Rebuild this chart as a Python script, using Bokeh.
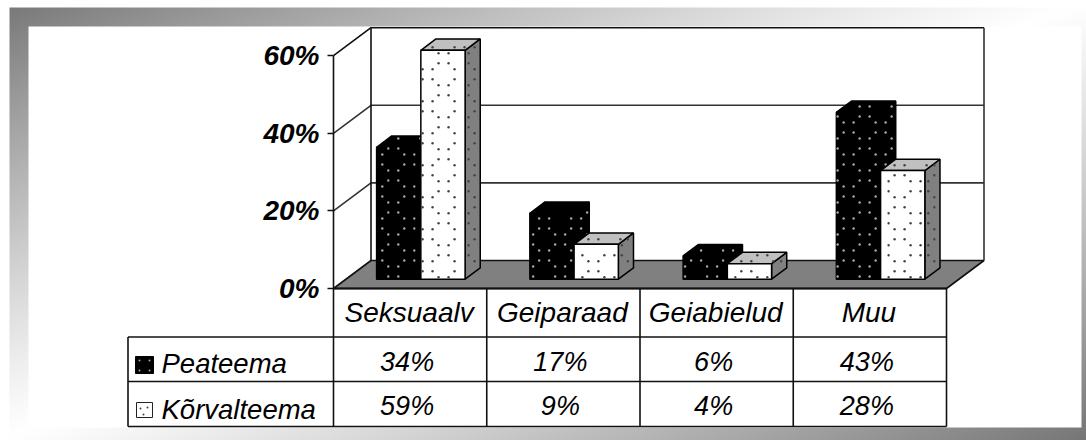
import numpy as np
from bokeh.core.properties import value
from bokeh.embed import file_html
from bokeh.models import FixedTicker, LinearAxis, PrintfTickFormatter, Range1d
from bokeh.plotting import figure
from bokeh.resources import INLINE

# ---- data ----
categories = ["Seksuaalv", "Geiparaad", "Geiabielud", "Muu"]
series_names = ["Peateema", "Kõrvalteema"]
peateema = [34, 17, 6, 43]
korvalteema = [59, 9, 4, 28]
y_ticks = [0, 20, 40, 60]
gridlines = [20, 40, 60]

# ---- page geometry (px) ----
PAGE_L, PAGE_T, PAGE_R, PAGE_B = 0, 0, 1086, 440
X0, CW = 333.0, 153.25      # px of category 0, px per category
Y0, PP = 288.0, 3.88        # px of 0 %, px per percent
DX, DY = 37.5, 28.0         # depth of the 3D box, px
D_FRONT, D_BACK = 0.332, 0.736
BAR_START, BAR_W = 0.2, 0.2887
FONT = "Liberation Sans"
BASE_FIX = 9.0


def dx_data(px): return (px - X0) / CW
def dy_data(py): return (Y0 - py) / PP
def to_px(x, y): return X0 + x * CW, Y0 - y * PP
def proj(c, v, d): return c + d * DX / CW, v + d * DY / PP


p = figure(width=PAGE_R - PAGE_L, height=PAGE_B - PAGE_T,
           x_range=Range1d(dx_data(PAGE_L), dx_data(PAGE_R)),
           y_range=Range1d(dy_data(PAGE_B), dy_data(PAGE_T)),
           toolbar_location=None, output_backend="svg", min_border=0,
           x_axis_type=None, y_axis_type=None, outline_line_color=None,
           background_fill_color="white", border_fill_color="white")
p.grid.visible = False

# ---- gradient frame ----
W, H = PAGE_R - PAGE_L, PAGE_B - PAGE_T
xx, yy = np.meshgrid(np.arange(W) + PAGE_L + .5, np.arange(H) + PAGE_T + .5)
t = xx / 1086 + yy / 440
g = 255 - 137 * np.abs(1 - t) ** 1.15
g = np.where((xx < 9) | (yy < 7), 255, g)
g = g.clip(0, 255).astype(np.uint32)
img = (255 << 24) | (g << 16) | (g << 8) | g
img = np.array(img, dtype=np.uint32)[::-1]
p.image_rgba(image=[img], x=dx_data(PAGE_L), y=dy_data(PAGE_B),
             dw=dx_data(PAGE_R) - dx_data(PAGE_L), dh=dy_data(PAGE_T) - dy_data(PAGE_B))
p.quad(left=dx_data(28), right=dx_data(1081), top=dy_data(26), bottom=dy_data(427),
       fill_color="white", line_color=None)

LINE = "#111111"
n = len(categories)
top_v = max(y_ticks)

# ---- walls ----
bx0, by0 = proj(0, 0, 1)
bx1, _ = proj(n, 0, 1)
for v in gridlines:
    xs0, ys0 = proj(0, v, 0)
    xs1, ys1 = proj(0, v, 1)
    p.line([xs0, xs1, bx1], [ys0, ys1, ys1], line_color="#333333" if v != 60 else LINE, line_width=1.6)
_, ty = proj(0, top_v, 1)
p.line([bx0, bx0], [by0, ty], line_color=LINE, line_width=1.6)
p.line([bx1, bx1], [by0, ty], line_color="#333333", line_width=1.6)

# ---- floor ----
fx, fy = zip(proj(0, 0, 0), proj(n, 0, 0), proj(n, 0, 1), proj(0, 0, 1))
p.patch(list(fx), list(fy), fill_color="#808080", line_color=LINE, line_width=1.6)


# ---- speckle texture ----
def inside(px, py, poly):
    c = False
    m = len(poly)
    for i in range(m):
        x1, y1 = poly[i]
        x2, y2 = poly[(i + 1) % m]
        if (y1 > py) != (y2 > py) and px < (x2 - x1) * (py - y1) / (y2 - y1) + x1:
            c = not c
    return c


def speckle(poly_data, ax, ay):
    poly = [to_px(*q) for q in poly_data]
    out = []
    for k in range(-2, 44):
        for m in range(-2, 16):
            for ox, oy in ((0, 0), (16, 16)):
                for sx in (0, 10):
                    for sy in (0, 10):
                        px = ax % 32 + ox + sx + 32 * k
                        py = ay % 32 + oy + sy + 32 * m
                        if all(inside(px + a, py + b, poly)
                               for a, b in ((1, 0), (-1, 0), (0, 1), (0, -1))):
                            out.append((dx_data(px), dy_data(py)))
    return out


# px offsets of the speckle tile inside each bar
tile_black = [11.7, 25.3, 24.0, 23.3]
tile_white = [1.7, 14.3, 14.0, 14.0]

for i in range(n):
    for j, vals in enumerate((peateema, korvalteema)):
        v = vals[i]
        c0 = i + BAR_START + j * BAR_W
        c1 = c0 + BAR_W
        front = [proj(c0, 0, D_FRONT), proj(c1, 0, D_FRONT), proj(c1, v, D_FRONT), proj(c0, v, D_FRONT)]
        side = [proj(c1, 0, D_FRONT), proj(c1, 0, D_BACK), proj(c1, v, D_BACK), proj(c1, v, D_FRONT)]
        top = [proj(c0, v, D_FRONT), proj(c1, v, D_FRONT), proj(c1, v, D_BACK), proj(c0, v, D_BACK)]
        colours = ("black", "black", "black") if j == 0 else ("white", "#808080", "#c0c0c0")
        for face, col in zip((side, top, front), (colours[1], colours[2], colours[0])):
            p.patch([q[0] for q in face], [q[1] for q in face], fill_color=col,
                    line_color="black", line_width=1.5)
        left_px, _ = to_px(*front[0])
        side_px, _ = to_px(*side[0])
        if j == 0:
            ax, ay = left_px + tile_black[i], 10
            pts = speckle(front, ax, ay) + speckle(side, ax, ay) + speckle(top, ax, ay)
        else:
            ax, ay = left_px + tile_white[i], 4.7
            pts = speckle(front, ax, ay) + speckle(side, side_px + 9.5, ay) + speckle(top, ax, ay)
        p.scatter([q[0] for q in pts], [q[1] for q in pts], marker="circle", size=2.4,
                  fill_color="#a8a8a8" if j == 0 else "#444444", line_color=None)

# ---- y axis ----
axis = LinearAxis(fixed_location=0, bounds=(0, top_v), ticker=FixedTicker(ticks=y_ticks),
                  formatter=PrintfTickFormatter(format="%d%%"))
axis.axis_line_color = LINE
axis.axis_line_width = 1.6
axis.major_tick_line_color = LINE
axis.major_tick_line_width = 1.5
axis.major_tick_in = 0
axis.major_tick_out = 6
axis.minor_tick_line_color = None
axis.major_label_standoff = 8
axis.major_label_text_font = FONT
axis.major_label_text_font_size = "28px"
axis.major_label_text_font_style = "bold italic"
axis.major_label_text_color = "black"
p.add_layout(axis, "left")

# ---- data table ----
T_L, T_R = 127.5, 946.0
ROW1, ROW2, ROW3 = 336.5, 381.0, 426.0
for py in (ROW1, ROW2, ROW3):
    p.line([dx_data(T_L), n], [dy_data(py)] * 2, line_color=LINE, line_width=1.6)
p.line([dx_data(T_L)] * 2, [dy_data(ROW1), dy_data(ROW3)], line_color=LINE, line_width=1.6)
for i in range(n + 1):
    p.line([i, i], [0, dy_data(ROW3)], line_color=LINE, line_width=1.6)

p.line([0, n], [0, 0], line_color=LINE, line_width=1.8)

txt = dict(text_font=value(FONT), text_font_style="italic",
           text_color="black", text_baseline="alphabetic")
cat_x = [i + .5 - 1 / CW for i in range(n)]
val_x = [i + .5 - 3 / CW for i in range(n)]
p.text(x=cat_x, y=[dy_data(320.5 - BASE_FIX)] * n, text=categories, text_align="center",
       text_font_size="28px", **txt)
p.text(x=val_x, y=[dy_data(370.7 - BASE_FIX)] * n, text=[f"{v}%" for v in peateema], text_align="center",
       text_font_size="27px", **txt)
p.text(x=val_x, y=[dy_data(414.5 - BASE_FIX)] * n, text=[f"{v}%" for v in korvalteema], text_align="center",
       text_font_size="27px", **txt)
p.text(x=[dx_data(161)] * 2, y=[dy_data(372.3 - BASE_FIX), dy_data(418 - BASE_FIX)], text=series_names,
       text_align="left", text_font_size="27.5px", **txt)

# ---- legend keys ----
k1 = dict(left=dx_data(135), right=dx_data(153), top=dy_data(356), bottom=dy_data(373))
p.quad(fill_color="black", line_color="black", line_width=1, **k1)
p.scatter([dx_data(a) for a in (139, 149, 139, 149)], [dy_data(b) for b in (360, 360, 370, 370)],
          marker="circle", size=2, fill_color="#a8a8a8", line_color=None)
k2 = dict(left=dx_data(136), right=dx_data(152), top=dy_data(402), bottom=dy_data(417))
p.quad(fill_color="white", line_color="#222222", line_width=1, **k2)
p.scatter([dx_data(a) for a in (140, 147, 143)], [dy_data(b) for b in (408, 407, 414)],
          marker="circle", size=2, fill_color="#444444", line_color=None)

open("out.html", "w").write(file_html(p, INLINE))
